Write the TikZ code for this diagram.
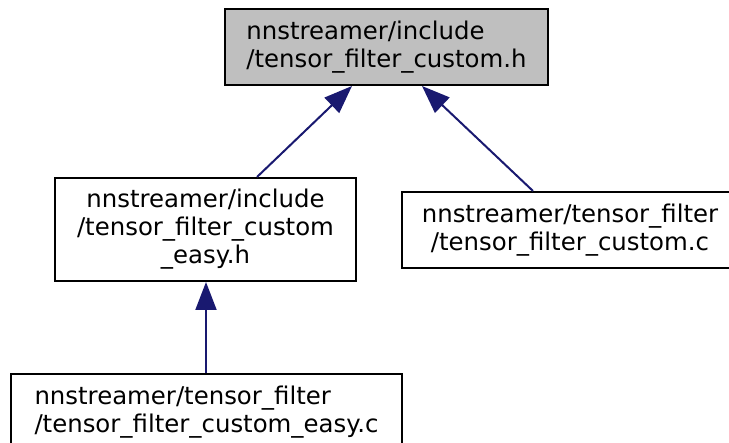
\documentclass[tikz,border=0pt]{standalone}
\usepackage{fontspec}
\setmainfont{DejaVu Sans}
\usetikzlibrary{arrows.meta,calc}
\definecolor{edgeblue}{HTML}{191970}
\definecolor{boxgrey}{HTML}{BFBFBF}
\tikzset{
  filebox/.style={draw=black, line width=2pt, inner sep=0pt, font=\fontsize{24.4pt}{28pt}\selectfont},
  depedge/.style={draw=edgeblue, line width=2pt, -{Triangle[length=28pt,width=21pt]}, shorten >=0pt}
}
\begin{document}
\begin{tikzpicture}[x=1pt,y=-1pt]
\useasboundingbox (0,0) rectangle (729,443);
\clip (0,0) rectangle (729,443);
\node[filebox, fill=boxgrey, minimum width=323pt, minimum height=76pt, align=left] (top) at (386.5,47) {nnstreamer/include\\/tensor\_filter\_custom.h};
\node[filebox, fill=white, minimum width=301pt, minimum height=103pt, align=center] (ml) at (205.5,229.5) {nnstreamer/include\\/tensor\_filter\_custom\\\_easy.h};
\node[filebox, fill=white, minimum width=336pt, minimum height=76pt, align=center] (mr) at (570,230) {nnstreamer/tensor\_filter\\/tensor\_filter\_custom.c};
\node[filebox, fill=white, minimum width=391pt, minimum height=76pt, align=left] (bot) at (206.5,412) {nnstreamer/tensor\_filter\\/tensor\_filter\_custom\_easy.c};
\draw[depedge] ($(ml.north)+(51.5,0)$) -- ($(top.south)+(-34.5,0)$);
\draw[depedge] ($(mr.north)+(-37,0)$) -- ($(top.south)+(35.5,0)$);
\draw[depedge] ($(bot.north)+(-0.5,0)$) -- ($(ml.south)+(0.5,0)$);
\end{tikzpicture}
\end{document}
